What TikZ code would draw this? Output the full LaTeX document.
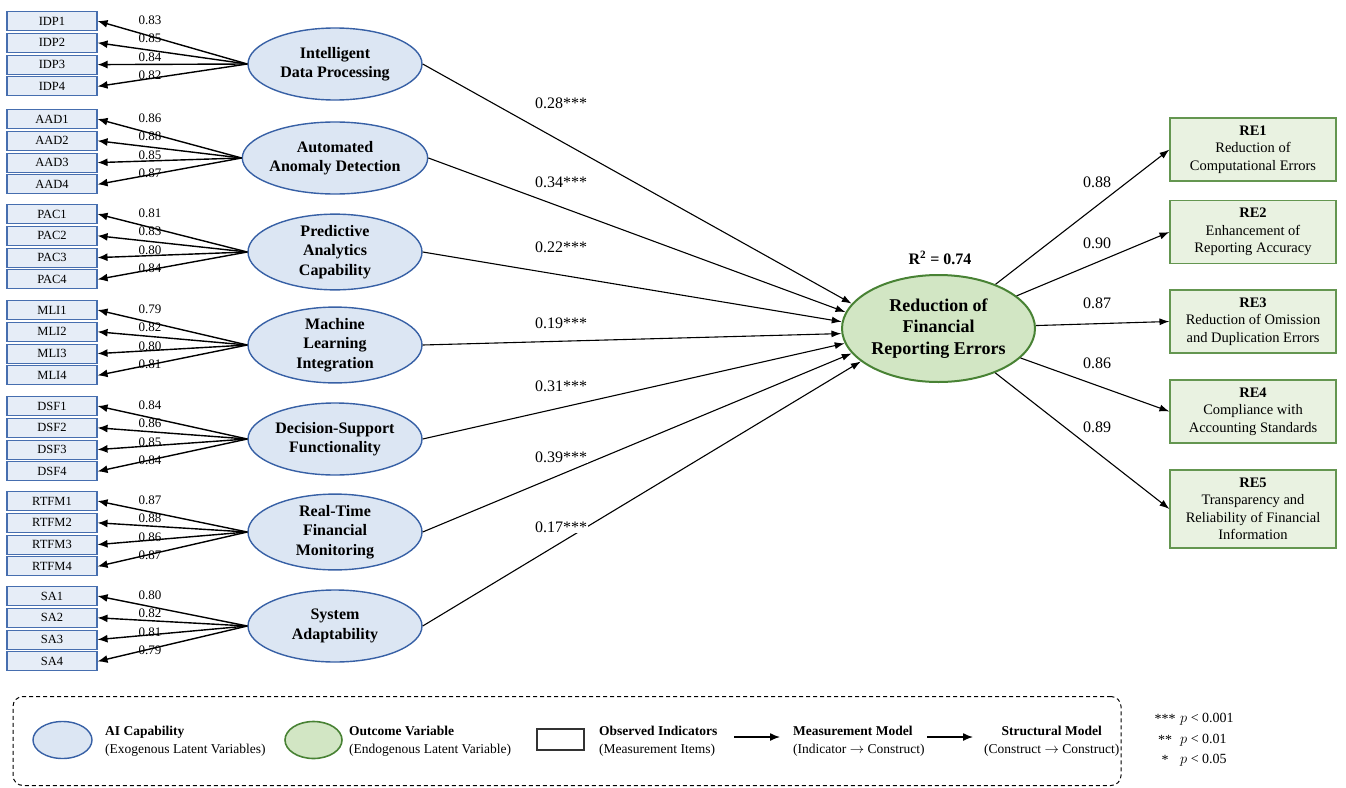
\documentclass[tikz,border=0pt]{standalone}
\usepackage{fontspec}
\setmainfont{Liberation Serif}
\usepackage{amssymb}
\usetikzlibrary{arrows,arrows.meta,shapes.geometric}

\definecolor{latfill}{RGB}{220,230,243}
\definecolor{latblue}{RGB}{55,96,165}
\definecolor{indfill}{RGB}{230,237,247}
\definecolor{indblue}{RGB}{70,110,175}
\definecolor{outfill}{RGB}{210,230,196}
\definecolor{outgreen}{RGB}{72,130,52}
\definecolor{refill}{RGB}{233,242,225}
\definecolor{regreen}{RGB}{100,150,80}

\begin{document}
\begin{tikzpicture}[x=1pt,y=-1pt,
  indicator/.style={draw=indblue, fill=indfill, line width=1.1pt, minimum width=90pt, minimum height=19pt, inner sep=0pt, font=\fontsize{12.5}{14}\selectfont},
  latent/.style={ellipse, draw=latblue, fill=latfill, line width=1.4pt, minimum width=174pt, minimum height=72pt, inner sep=0pt, align=center, font=\fontsize{16}{19.5}\selectfont\bfseries},
  outcome/.style={ellipse, draw=outgreen, fill=outfill, line width=2pt, minimum width=193pt, minimum height=107pt, inner sep=0pt, align=center, font=\fontsize{18}{21.5}\selectfont\bfseries},
  item/.style={draw=regreen, fill=refill, line width=1.1pt, minimum width=166pt, minimum height=63pt, inner sep=2pt, align=center, font=\fontsize{14.5}{17.5}\selectfont},
  loading/.style={font=\fontsize{13}{15}\selectfont, inner sep=1pt},
  coef/.style={font=\fontsize{16}{18}\selectfont, inner sep=1pt, fill=white},
  legtext/.style={anchor=west, align=left, inner sep=2pt, font=\fontsize{13.5}{18}\selectfont},
  meas/.style={-{Latex[length=10pt,width=8pt]}, line width=1.4pt},
  struct/.style={-{Latex[length=10pt,width=7pt]}, line width=1.1pt}
]
\useasboundingbox (0,0) rectangle (1346,787);

\node[latent] (IDP) at (335,64) {Intelligent\\Data Processing};
\node[latent] (AAD) at (335,158) {Automated\\Anomaly Detection};
\node[latent] (PAC) at (335,252) {Predictive\\Analytics\\Capability};
\node[latent] (MLI) at (335,345) {Machine\\Learning\\Integration};
\node[latent] (DSF) at (335,439) {Decision-Support\\Functionality};
\node[latent] (RTFM) at (335,532) {Real-Time\\Financial\\Monitoring};
\node[latent] (SA) at (335,626) {System\\Adaptability};

\foreach \g/\y/\la/\lb/\lc/\ld in {IDP/21/0.83/0.85/0.84/0.82, AAD/119/0.86/0.88/0.85/0.87,
    PAC/214/0.81/0.83/0.80/0.84, MLI/310/0.79/0.82/0.80/0.81, DSF/406/0.84/0.86/0.85/0.84,
    RTFM/501/0.87/0.88/0.86/0.87, SA/596/0.80/0.82/0.81/0.79}{
  \foreach \i/\l in {1/\la,2/\lb,3/\lc,4/\ld}{
    \node[indicator] (\g\i) at (52,{\y+21.8*(\i-1)}) {\g\i};
    \draw[meas] (\g.west) -- (\g\i.east);
    \node[loading] at (150,{\y-1+18.5*(\i-1)}) {\l};
  }
}

\node[outcome] (RFRE) at (938.5,328.5) {Reduction of\\Financial\\Reporting Errors};
\node[font=\fontsize{16}{18}\selectfont\bfseries] (R2) at (940,258) {R\textsuperscript{2} = 0.74};

\foreach \g/\a/\c/\y in {IDP/164/0.28/103, AAD/170/0.34/182, PAC/176/0.22/247, MLI/183/0.19/323,
    DSF/189/0.31/386, RTFM/196/0.39/457, SA/203/0.17/527}{
  \draw[struct] (\g.east) -- (RFRE.\a);
  \node[coef] at (561,\y) {\c***};
}

\node[item] (RE1) at (1253,149.5) {\textbf{RE1}\\Reduction of\\Computational Errors};
\node[item] (RE2) at (1253,232) {\textbf{RE2}\\Enhancement of\\Reporting Accuracy};
\node[item] (RE3) at (1253,321.5) {\textbf{RE3}\\Reduction of Omission\\and Duplication Errors};
\node[item] (RE4) at (1253,411.5) {\textbf{RE4}\\Compliance with\\Accounting Standards};
\node[item, minimum height=78pt] (RE5) at (1253,509) {\textbf{RE5}\\Transparency and\\Reliability of Financial\\Information};

\foreach \r/\c/\y in {RE1/0.88/182, RE2/0.90/243, RE3/0.87/303, RE4/0.86/363, RE5/0.89/427}{
  \draw[struct] (RFRE) -- (\r.west);
  \node[coef, fill=none] at (1097,\y) {\c};
}

\node[draw, dashed, dash pattern=on 4pt off 3pt, line width=1pt, rounded corners=10pt,
  minimum width=1108pt, minimum height=89pt, inner sep=0pt] (legend) at (567,741) {};
\node[latent, minimum width=59pt, minimum height=37pt] (legAI) at (62.5,740) {};
\node[legtext] (txtAI) at (103,741) {\textbf{AI Capability}\\(Exogenous Latent Variables)};
\node[outcome, line width=1.6pt, minimum width=57pt, minimum height=37pt] (legOV) at (313.5,740) {};
\node[legtext] (txtOV) at (347,741) {\textbf{Outcome Variable}\\(Endogenous Latent Variable)};
\node[draw=black!80, fill=white, line width=1.1pt, minimum width=47pt, minimum height=21pt] (legOI) at (560.5,739.5) {};
\node[legtext] (txtOI) at (597,741) {\textbf{Observed Indicators}\\(Measurement Items)};
\coordinate (m1) at (734,737);
\coordinate (m2) at (780,737);
\draw[meas] (m1) -- (m2);
\node[legtext] (txtMM) at (791,741) {\textbf{Measurement Model}\\(Indicator $\rightarrow$ Construct)};
\coordinate (s1) at (927,737);
\coordinate (s2) at (973,737);
\draw[meas] (s1) -- (s2);
\node[legtext, align=center] (txtSM) at (982,741) {\textbf{Structural Model}\\(Construct $\rightarrow$ Construct)};

\foreach \s/\p/\y in {***/0.001/719, **/0.01/740, */0.05/760}{
  \node[font=\fontsize{14}{16}\selectfont, inner sep=0pt] at (1165,\y) {\s};
  \node[font=\fontsize{14}{16}\selectfont, anchor=west, inner sep=0pt] at (1180,\y) {$p$ < \p};
}
\end{tikzpicture}
\end{document}
